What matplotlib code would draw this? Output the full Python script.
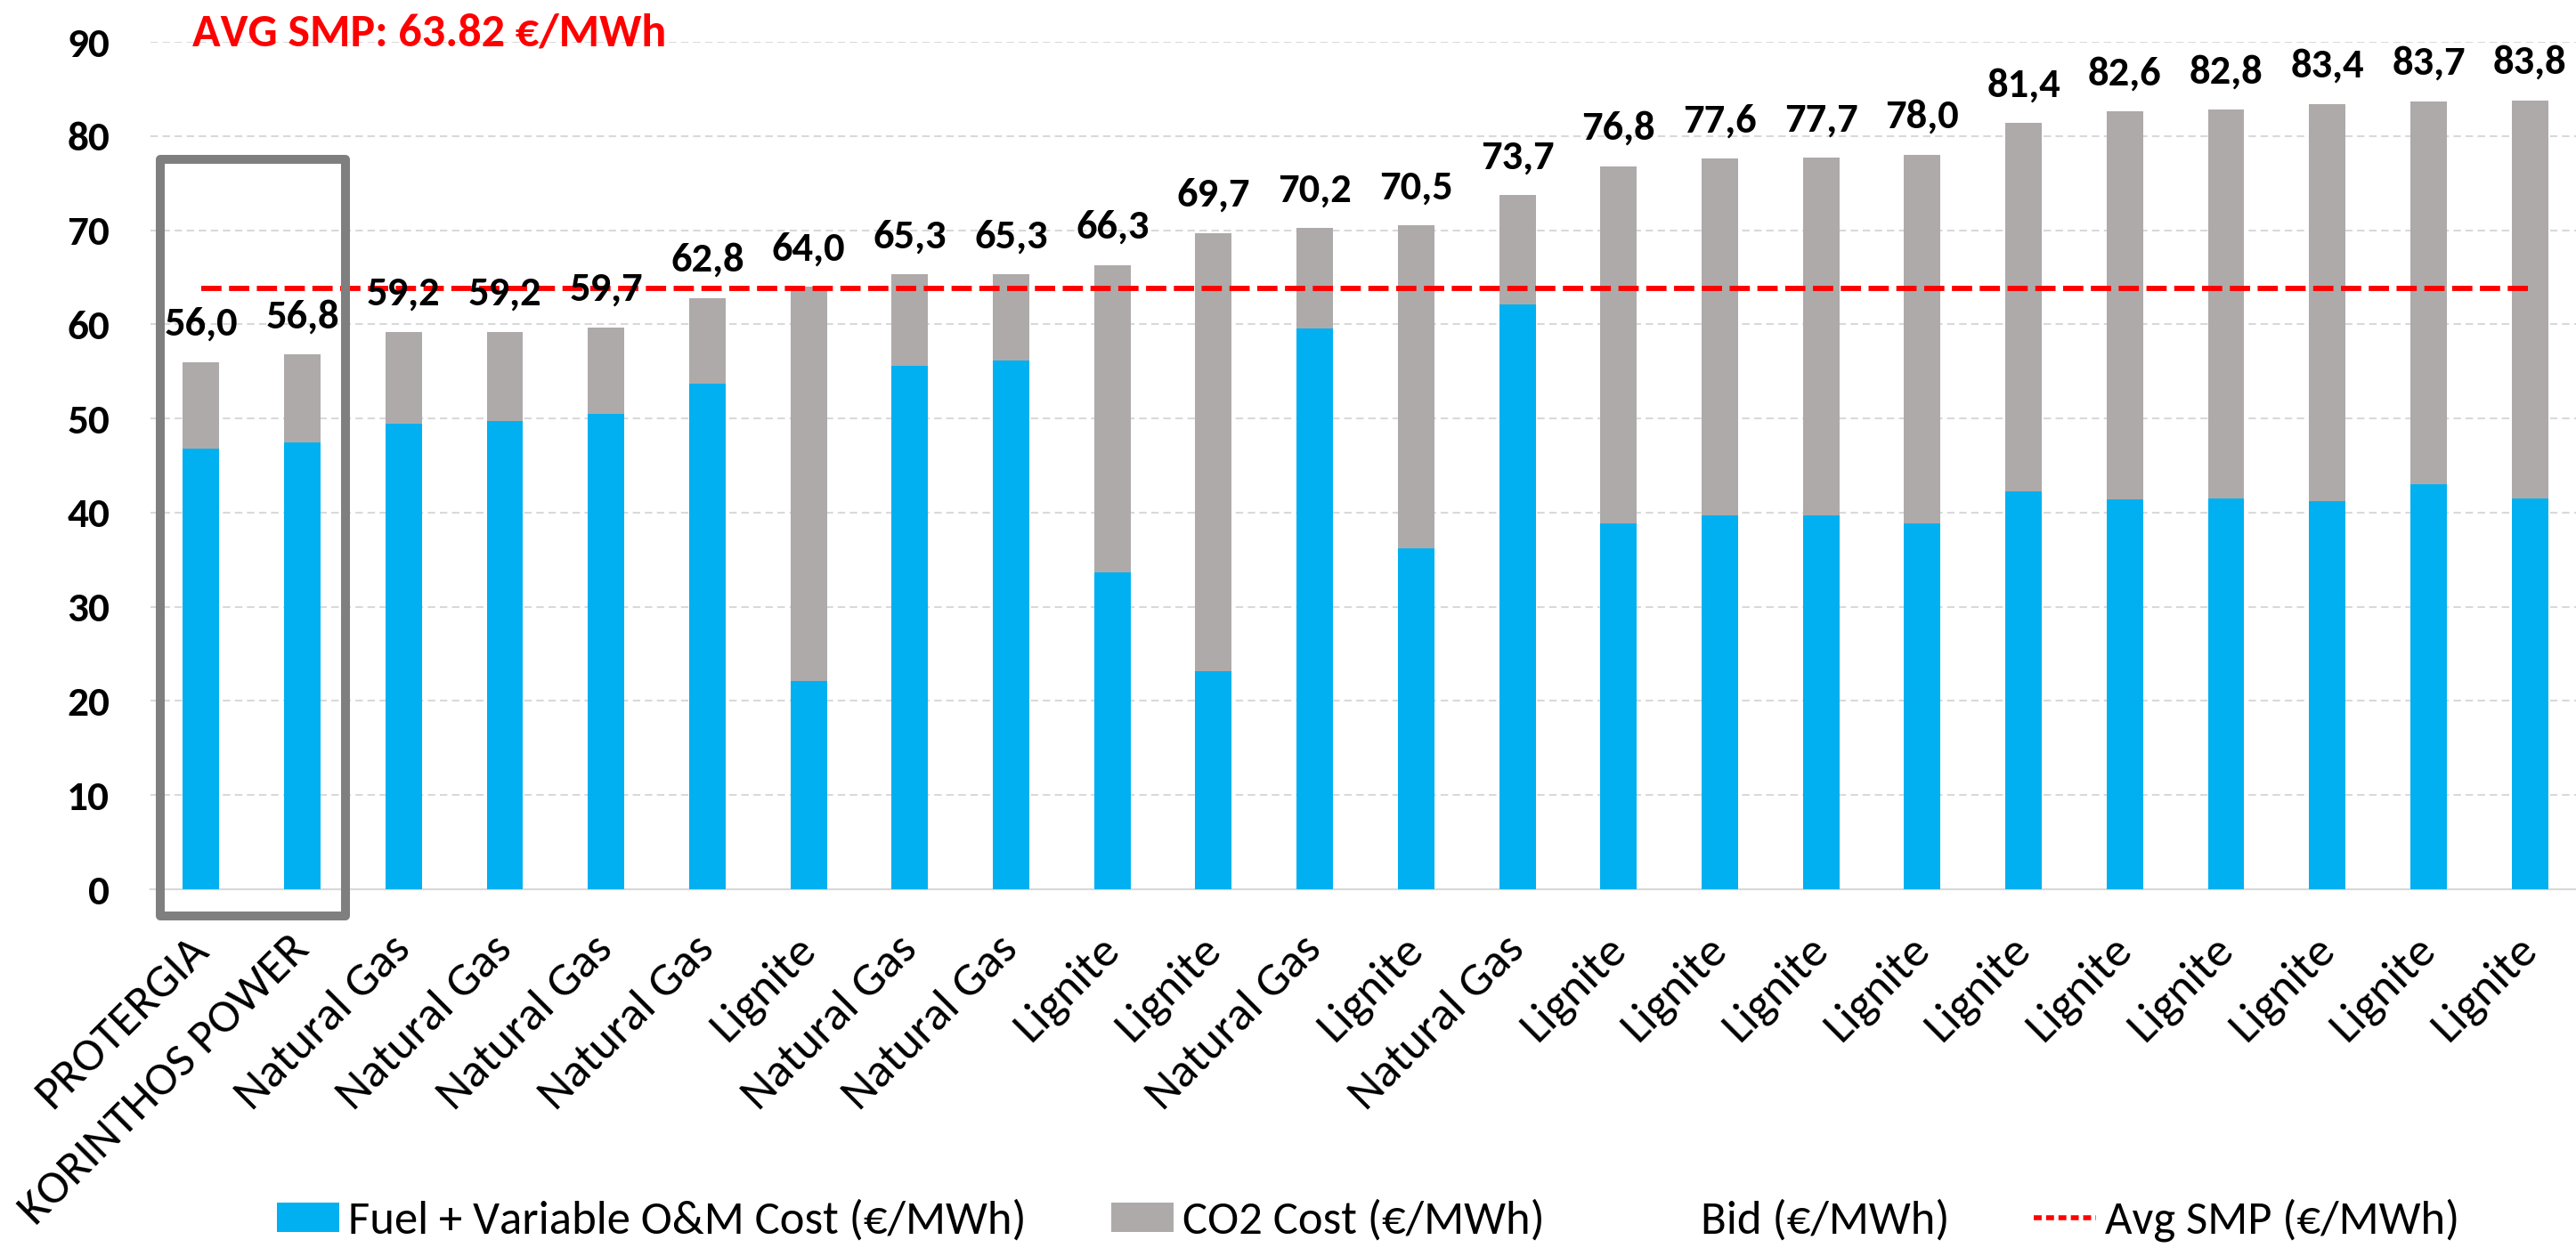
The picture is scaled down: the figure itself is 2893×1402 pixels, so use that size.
import matplotlib
matplotlib.use('Agg')
import matplotlib.pyplot as plt
import matplotlib.transforms as mtransforms
from matplotlib.lines import Line2D
from matplotlib.patches import Patch, Rectangle

# ---------------- data ----------------
categories = ["PROTERGIA", "KORINTHOS POWER", "Natural Gas", "Natural Gas",
              "Natural Gas", "Natural Gas", "Lignite", "Natural Gas",
              "Natural Gas", "Lignite", "Lignite", "Natural Gas", "Lignite",
              "Natural Gas", "Lignite", "Lignite", "Lignite", "Lignite",
              "Lignite", "Lignite", "Lignite", "Lignite", "Lignite", "Lignite"]
fuel_om = [46.8, 47.5, 49.4, 49.7, 50.5, 53.7, 22.1, 55.6, 56.2, 33.7, 23.2,
           59.6, 36.2, 62.1, 38.9, 39.7, 39.7, 38.9, 42.3, 41.4, 41.5, 41.2,
           43.0, 41.5]
co2_cost = [9.2, 9.3, 9.8, 9.5, 9.2, 9.1, 41.9, 9.7, 9.1, 32.6, 46.5, 10.6,
            34.3, 11.6, 37.9, 37.9, 38.0, 39.1, 39.1, 41.2, 41.3, 42.2, 40.7,
            42.3]
bid = [56.0, 56.8, 59.2, 59.2, 59.7, 62.8, 64.0, 65.3, 65.3, 66.3, 69.7, 70.2,
       70.5, 73.7, 76.8, 77.6, 77.7, 78.0, 81.4, 82.6, 82.8, 83.4, 83.7, 83.8]
avg_smp_value = 63.82
avg_smp = [avg_smp_value] * len(categories)
yticks = [0, 10, 20, 30, 40, 50, 60, 70, 80, 90]

series_labels = ["Fuel + Variable O&M Cost (€/MWh)", "CO2 Cost (€/MWh)",
                 "Bid (€/MWh)", "Avg SMP (€/MWh)"]
title_text = "AVG SMP: 63.82 €/MWh"

# ---------------- style ----------------
plt.rcParams['font.family'] = ['Carlito', 'Lato', 'DejaVu Sans']
BLUE = '#00B0F0'
GREY = '#AEAAAA'
RED = '#FF0000'
W, H = 2893, 1402
DPI = 100

fig = plt.figure(figsize=(W / DPI, H / DPI), dpi=DPI)
ax = fig.add_axes([169 / W, 1 - 999 / H, 2729 / W, 952 / H])

x = list(range(len(categories)))
ax.bar(x, fuel_om, width=0.36, color=BLUE, zorder=3)
ax.bar(x, co2_cost, bottom=fuel_om, width=0.36, color=GREY, zorder=3)
ax.plot(x, bid, linestyle='none')
ax.plot(x, avg_smp, color=RED, lw=4.2, dashes=(3.9, 1.45), zorder=4)

for xi, b in zip(x, bid):
    ax.annotate(f"{b:.1f}".replace('.', ','), (xi, b), xytext=(0, 21.5),
                textcoords='offset points', ha='center', va='baseline',
                fontsize=33.5, fontweight='bold', color='black', zorder=6)

ax.set_xlim(-0.5, 23.5)
ax.set_ylim(0, 90)
ax.set_yticks(yticks)
ax.set_yticklabels([str(v) for v in yticks], fontweight='bold', fontsize=34)
ax.yaxis.grid(True, color='#D9D9D9', lw=1.5, linestyle=(0, (4, 2.5)))
ax.set_axisbelow(True)
for s in ['top', 'right', 'left']:
    ax.spines[s].set_visible(False)
ax.spines['bottom'].set_color('#D9D9D9')
ax.spines['bottom'].set_linewidth(1.6)
ax.spines['bottom'].set_zorder(2)

ax.tick_params(axis='y', length=0, pad=33)
ax.tick_params(axis='x', length=0, pad=50.4)
ax.set_xticks(x)
ax.set_xticklabels(categories, fontsize=38.5)
offset = mtransforms.ScaledTranslation(0.10, 0, fig.dpi_scale_trans)
for lbl in ax.get_xticklabels():
    lbl.set_rotation(45)
    lbl.set_ha('right')
    lbl.set_va('baseline')
    lbl.set_rotation_mode('anchor')
    lbl.set_transform(lbl.get_transform() + offset)

# highlight box around the first two units
box = Rectangle((-0.405, -2.84), 1.83, 80.34, fill=False, edgecolor='#7F7F7F',
                lw=7.2, joinstyle='round', clip_on=False, zorder=5)
ax.add_patch(box)

fig.text(216 / W, 1 - 52 / H, title_text, color=RED, fontsize=37.5,
         fontweight='bold', ha='left', va='baseline')

em = 38 * DPI / 72
handles = [Patch(facecolor=BLUE, edgecolor='none'),
           Patch(facecolor=GREY, edgecolor='none'),
           Line2D([], [], linestyle='none'),
           Line2D([], [], color=RED, lw=4, dashes=(1.6, 0.9))]
fig.legend(handles, series_labels, loc='center',
           bbox_to_anchor=(1537 / W, 1 - 1371 / H), ncol=4, frameon=False,
           fontsize=38, handlelength=70 / em, handleheight=31 / em,
           handletextpad=10 / em, columnspacing=95 / em, borderpad=0)

fig.savefig('out.png', dpi=DPI)
